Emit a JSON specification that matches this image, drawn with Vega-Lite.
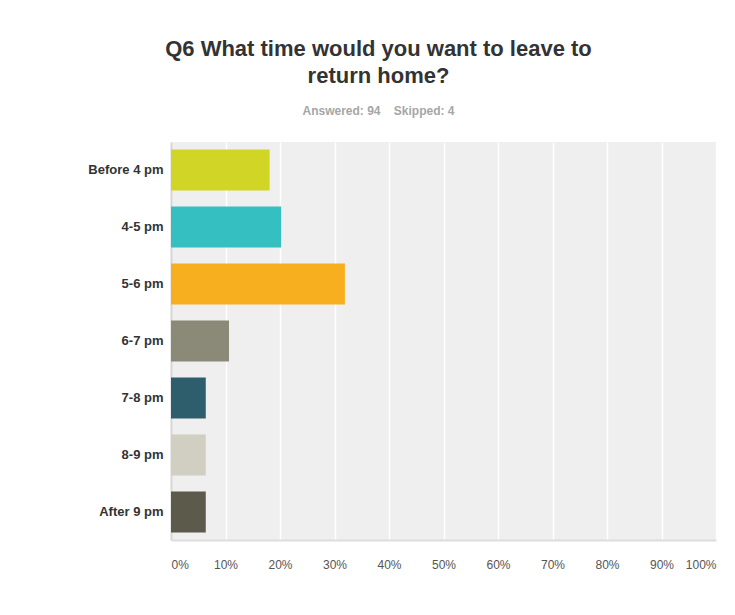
{
  "$schema": "https://vega.github.io/schema/vega-lite/v6.json",
  "width": 545,
  "height": 398,
  "autosize": {"type": "none"},
  "padding": {"left": 171, "top": 142, "right": 19, "bottom": 75},
  "background": "white",
  "title": {
    "text": ["Q6 What time would you want to leave to", "return home?"],
    "subtitle": "Answered: 94\u00a0\u00a0\u00a0\u00a0Skipped: 4",
    "anchor": "middle",
    "frame": "group",
    "dx": -65,
    "font": "Liberation Sans",
    "fontSize": 22,
    "fontWeight": "bold",
    "color": "#333333",
    "lineHeight": 27,
    "subtitleFont": "Liberation Sans",
    "subtitleFontSize": 12,
    "subtitleFontWeight": "bold",
    "subtitleColor": "#a6a6a6",
    "subtitlePadding": 18,
    "offset": 24
  },
  "data": {
    "values": [
      {"answer": "Before 4 pm", "pct": 0.1809},
      {"answer": "4-5 pm", "pct": 0.2021},
      {"answer": "5-6 pm", "pct": 0.3191},
      {"answer": "6-7 pm", "pct": 0.1064},
      {"answer": "7-8 pm", "pct": 0.0638},
      {"answer": "8-9 pm", "pct": 0.0638},
      {"answer": "After 9 pm", "pct": 0.0638}
    ]
  },
  "mark": {"type": "bar"},
  "encoding": {
    "y": {
      "field": "answer",
      "type": "nominal",
      "sort": null,
      "scale": {"paddingInner": 0.28, "paddingOuter": 0.13},
      "axis": {
        "title": null,
        "ticks": false,
        "domain": true,
        "domainColor": "#d6d6d6",
        "domainWidth": 2,
        "labelPadding": 8,
        "labelFont": "Liberation Sans",
        "labelFontSize": 13,
        "labelFontWeight": "bold",
        "labelColor": "#333333",
        "grid": false
      }
    },
    "x": {
      "field": "pct",
      "type": "quantitative",
      "scale": {"domain": [0, 1]},
      "axis": {
        "title": null,
        "format": ".0%",
        "values": [0, 0.1, 0.2, 0.3, 0.4, 0.5, 0.6, 0.7, 0.8, 0.9, 1],
        "ticks": false,
        "domain": true,
        "domainColor": "#dddddd",
        "domainWidth": 2,
        "labelPadding": 19,
        "labelFlush": true,
        "labelFont": "Liberation Sans",
        "labelFontSize": 12,
        "labelColor": "#555555",
        "grid": true,
        "gridColor": "#ffffff",
        "gridWidth": 1.5
      }
    },
    "color": {
      "field": "answer",
      "type": "nominal",
      "legend": null,
      "scale": {
        "domain": ["Before 4 pm", "4-5 pm", "5-6 pm", "6-7 pm", "7-8 pm", "8-9 pm", "After 9 pm"],
        "range": ["#d1d626", "#35bfc0", "#f7af1f", "#8b8a78", "#2e5e6b", "#d0cfc2", "#5c5a4b"]
      }
    }
  },
  "config": {
    "view": {"fill": "#efefef", "stroke": null}
  }
}
